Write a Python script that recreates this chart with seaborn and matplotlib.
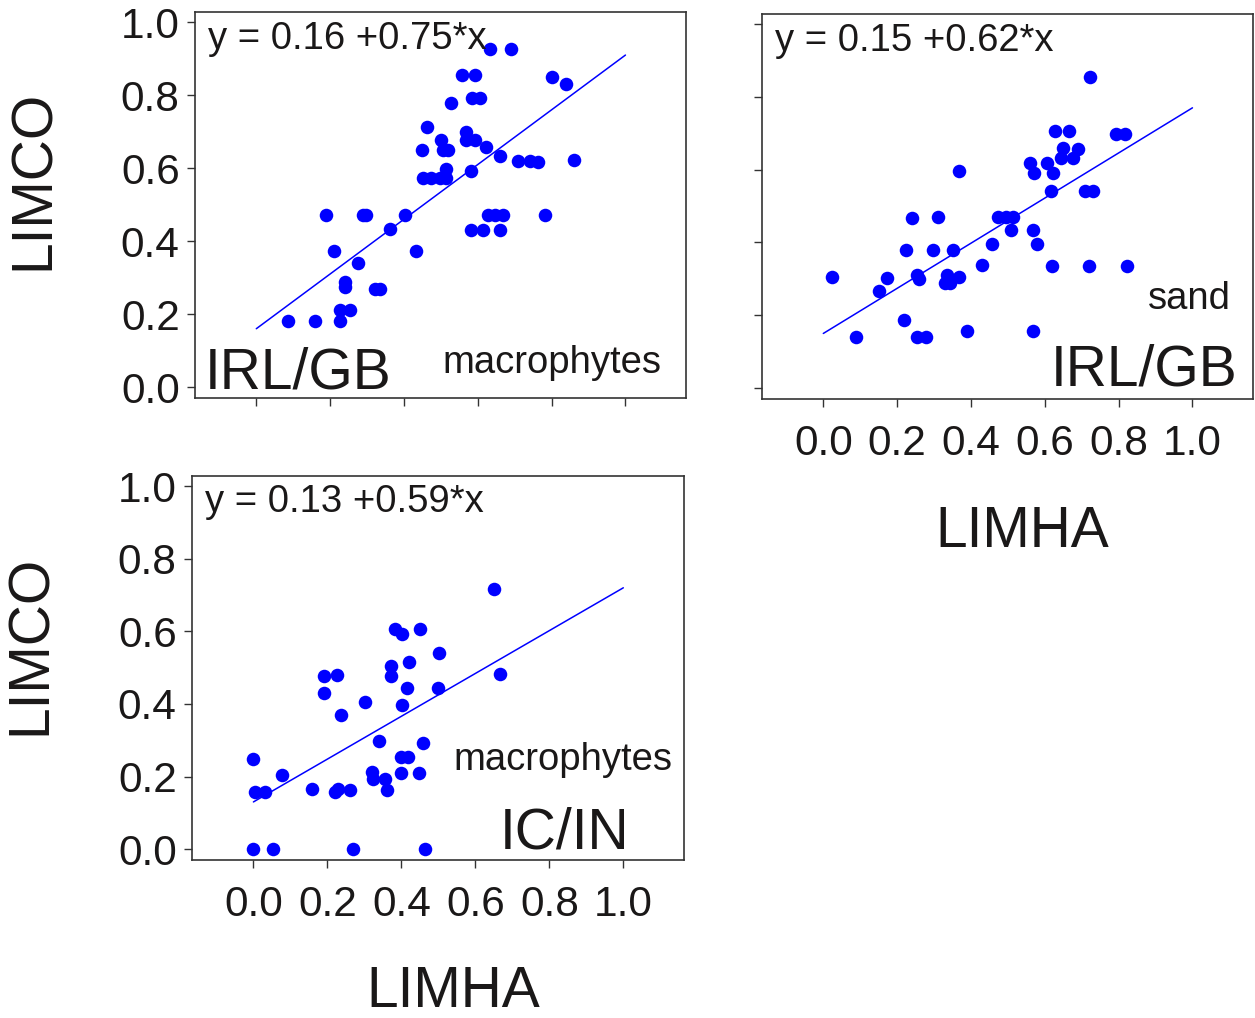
import numpy as np
import pandas as pd
import matplotlib
matplotlib.use('Agg')
import matplotlib.pyplot as plt
import seaborn as sns

# IRL/GB macrophytes
limha_mac = [0.086, 0.158, 0.226, 0.226, 0.253, 0.241, 0.241, 0.321, 0.334, 0.276, 0.210,
             0.188, 0.289, 0.298, 0.361, 0.402, 0.432, 0.581, 0.614, 0.659, 0.628, 0.646,
             0.668, 0.783, 0.581, 0.452, 0.474, 0.497, 0.515, 0.515, 0.449, 0.499, 0.506,
             0.519, 0.463, 0.569, 0.569, 0.592, 0.623, 0.661, 0.709, 0.741, 0.763, 0.860,
             0.528, 0.583, 0.605, 0.556, 0.592, 0.632, 0.689, 0.801, 0.838]
limco_mac = [0.180, 0.180, 0.180, 0.211, 0.211, 0.287, 0.275, 0.269, 0.269, 0.340, 0.374,
             0.471, 0.471, 0.471, 0.433, 0.471, 0.372, 0.431, 0.431, 0.431, 0.472, 0.472,
             0.472, 0.472, 0.592, 0.573, 0.573, 0.573, 0.573, 0.599, 0.651, 0.677, 0.651,
             0.651, 0.714, 0.700, 0.677, 0.677, 0.659, 0.633, 0.620, 0.620, 0.617, 0.622,
             0.778, 0.791, 0.791, 0.856, 0.856, 0.927, 0.927, 0.849, 0.830]

# IRL/GB sand
limha_sand = [0.024, 0.088, 0.151, 0.173, 0.219, 0.224, 0.241, 0.255, 0.277, 0.255, 0.259,
              0.298, 0.310, 0.329, 0.343, 0.334, 0.367, 0.350, 0.367, 0.390, 0.431, 0.458,
              0.474, 0.496, 0.514, 0.508, 0.567, 0.578, 0.567, 0.560, 0.571, 0.605, 0.621,
              0.618, 0.620, 0.627, 0.666, 0.650, 0.645, 0.677, 0.689, 0.708, 0.731, 0.720,
              0.722, 0.794, 0.817, 0.823]
limco_sand = [0.305, 0.140, 0.268, 0.302, 0.188, 0.380, 0.467, 0.140, 0.140, 0.311, 0.299,
              0.380, 0.469, 0.290, 0.290, 0.311, 0.305, 0.380, 0.597, 0.158, 0.337, 0.396,
              0.471, 0.471, 0.471, 0.433, 0.433, 0.396, 0.158, 0.618, 0.590, 0.618, 0.590,
              0.542, 0.336, 0.707, 0.707, 0.659, 0.631, 0.631, 0.656, 0.542, 0.542, 0.336,
              0.854, 0.697, 0.697, 0.336]

# IC/IN macrophytes
limha_icin = [0.0, 0.052, 0.268, 0.464, 0.0, 0.005, 0.030, 0.077, 0.159, 0.220, 0.229,
              0.260, 0.321, 0.324, 0.355, 0.362, 0.340, 0.399, 0.448, 0.399, 0.419, 0.458,
              0.190, 0.227, 0.190, 0.238, 0.303, 0.373, 0.373, 0.384, 0.402, 0.450, 0.420,
              0.416, 0.403, 0.502, 0.498, 0.651, 0.667]
limco_icin = [0.0, 0.0, 0.0, 0.0, 0.247, 0.158, 0.158, 0.204, 0.165, 0.158, 0.165,
              0.162, 0.213, 0.192, 0.192, 0.162, 0.298, 0.209, 0.209, 0.255, 0.255, 0.293,
              0.476, 0.481, 0.429, 0.369, 0.406, 0.504, 0.476, 0.607, 0.592, 0.607, 0.515,
              0.444, 0.398, 0.540, 0.444, 0.717, 0.483]

# regression coefficients (intercept, slope) as printed on the panels
coef_mac = (0.16, 0.75)
coef_sand = (0.15, 0.62)
coef_icin = (0.13, 0.59)

ticks = [0.0, 0.2, 0.4, 0.6, 0.8, 1.0]
tick_labels = ['0.0', '0.2', '0.4', '0.6', '0.8', '1.0']

sns.set_style('white')
plt.rcParams['font.family'] = ['Liberation Sans', 'DejaVu Sans']
txt_col = '#1a1818'

fig = plt.figure(figsize=(12.55, 10.18), dpi=100)
ax1 = fig.add_axes([0.1554, 0.6090, 0.3912, 0.3792])
ax2 = fig.add_axes([0.6072, 0.6081, 0.3912, 0.3782])
ax3 = fig.add_axes([0.1530, 0.1552, 0.3920, 0.3772])

panels = [
    (ax1, limha_mac, limco_mac, coef_mac),
    (ax2, limha_sand, limco_sand, coef_sand),
    (ax3, limha_icin, limco_icin, coef_icin),
]

for ax, xs, ys, (b0, b1) in panels:
    df = pd.DataFrame({'LIMHA': xs, 'LIMCO': ys})
    sns.scatterplot(data=df, x='LIMHA', y='LIMCO', ax=ax, color='#0000ff',
                    s=95, linewidth=0, zorder=3)
    line = pd.DataFrame({'x': [0.0, 1.0]})
    line['y'] = b0 + b1 * line['x']
    sns.lineplot(data=line, x='x', y='y', ax=ax, color='#0000ff', lw=1.1, zorder=2)
    ax.text(0.026, 0.905, f'y = {b0:.2f} +{b1:.2f}*x', transform=ax.transAxes,
            fontsize=27.5, color=txt_col, va='baseline', ha='left')
    ax.set_xlim(-0.166, 1.164)
    ax.set_ylim(-0.03, 1.028)
    ax.set_xticks(ticks)
    ax.set_yticks(ticks)
    ax.set_xlabel('')
    ax.set_ylabel('')
    for sp in ax.spines.values():
        sp.set_color('#333333')
        sp.set_linewidth(1.2)
    ax.tick_params(direction='out', length=6, width=1, color='#333333',
                   labelsize=30.5, labelcolor=txt_col,
                   bottom=True, left=True)
    ax.tick_params(axis='x', pad=12)
    ax.tick_params(axis='y', pad=5)

# which tick labels are shown
ax1.set_yticklabels(tick_labels)
ax1.set_xticklabels([])
ax2.set_yticklabels([])
ax2.set_xticklabels(tick_labels)
ax3.set_xticklabels(tick_labels)
ax3.set_yticklabels(tick_labels)

# axis titles
for ax, ycoord in [(ax1, 0.565), (ax3, 0.56)]:
    ax.set_ylabel('LIMCO', fontsize=41, color=txt_col, va='center')
    ax.yaxis.set_label_coords(-0.328, ycoord)
for ax, ycoord in [(ax2, -0.345), (ax3, -0.343)]:
    ax.set_xlabel('LIMHA', fontsize=41, color=txt_col, va='center')
    ax.xaxis.set_label_coords(0.53, ycoord)

# panel annotations
ax1.text(0.020, 0.026, 'IRL/GB', transform=ax1.transAxes, fontsize=41,
         color=txt_col, va='baseline', ha='left')
ax1.text(0.505, 0.065, 'macrophytes', transform=ax1.transAxes, fontsize=27.5,
         color=txt_col, va='baseline', ha='left')
ax2.text(0.786, 0.233, 'sand', transform=ax2.transAxes, fontsize=27.5,
         color=txt_col, va='baseline', ha='left')
ax2.text(0.969, 0.034, 'IRL/GB', transform=ax2.transAxes, fontsize=41,
         color=txt_col, va='baseline', ha='right')
ax3.text(0.531, 0.234, 'macrophytes', transform=ax3.transAxes, fontsize=27.5,
         color=txt_col, va='baseline', ha='left')
ax3.text(0.626, 0.030, 'IC/IN', transform=ax3.transAxes, fontsize=41,
         color=txt_col, va='baseline', ha='left')

fig.savefig('out.png', dpi=100, facecolor='white')
